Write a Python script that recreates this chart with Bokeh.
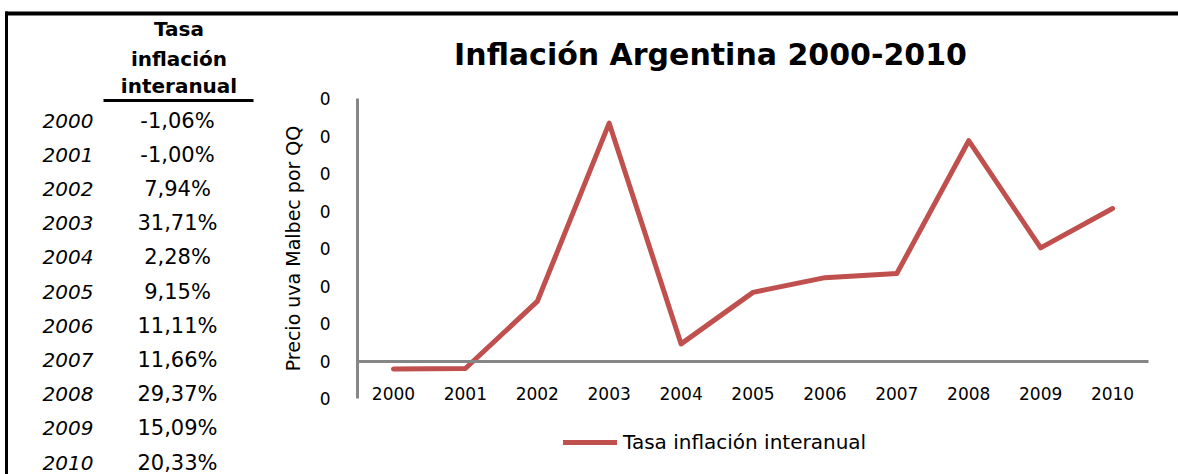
from bokeh.plotting import figure
from bokeh.models import (Range1d, FixedTicker, CustomJSTickFormatter, Legend, LegendItem,
                          LinearAxis)
from bokeh.core.properties import value
from bokeh.embed import file_html
from bokeh.resources import INLINE

# ---------------- data ----------------
years = [2000, 2001, 2002, 2003, 2004, 2005, 2006, 2007, 2008, 2009, 2010]
inflation = [-0.0106, -0.0100, 0.0794, 0.3171, 0.0228, 0.0915, 0.1111, 0.1166, 0.2937, 0.1509, 0.2033]
year_labels = [str(y) for y in years]
value_labels = [f"{v * 100:.2f}%".replace(".", ",") for v in inflation]
y_ticks = [-0.05, 0.0, 0.05, 0.10, 0.15, 0.20, 0.25, 0.30, 0.35]
header_lines = ["Tasa", "inflación", "interanual"]
chart_title = "Inflación Argentina 2000-2010"
y_label = "Precio uva Malbec por QQ"
series_name = "Tasa inflación interanual"

FONT = value("DejaVu Sans")
RED = "#C0504D"
GRAY = "#868686"

# ---------------- layout (canvas pixels) ----------------
W, H = 1178, 474
PL, PR, PT, PB = 357, 1148, 98, 398          # chart plot area
X_LO, X_HI = years[0] - 0.5, years[-1] + 0.5
Y_LO, Y_HI = y_ticks[0], y_ticks[-1]
ux = (X_HI - X_LO) / (PR - PL)
uy = (Y_HI - Y_LO) / (PB - PT)

p = figure(width=W, height=H, toolbar_location=None, output_backend="svg",
           x_range=Range1d(0, W), y_range=Range1d(H, 0),
           x_axis_type=None, y_axis_type=None,
           min_border=0, outline_line_color=None)
p.extra_x_ranges = {"yr": Range1d(X_LO - PL * ux, X_LO - PL * ux + W * ux)}
p.extra_y_ranges = {"pct": Range1d(Y_LO - (H - PB) * uy, Y_HI + PT * uy)}

# ---------------- frame borders ----------------
p.line(x=[6, 6], y=[11, H], line_color="black", line_width=3)
p.line(x=[5, W], y=[13, 13], line_color="black", line_width=4)

# ---------------- left table ----------------
p.text(x=[178.5] * 3, y=[28, 58, 85], text=header_lines, text_font=FONT,
       text_font_style="bold", text_font_size="20px", text_align="center",
       text_baseline="middle", text_color="black")
p.line(x=[103, 253], y=[100, 100], line_color="black", line_width=3)
row0, step = 120.0, 34.2
ys = [row0 + i * step for i in range(len(years))]
p.text(x=[42] * len(years), y=ys, text=year_labels, text_font=FONT,
       text_font_style="italic", text_font_size="20px", text_align="left",
       text_baseline="middle", text_color="black")
p.text(x=[177] * len(years), y=ys, text=value_labels, text_font=FONT,
       text_font_size="21px", text_align="center",
       text_baseline="middle", text_color="black")

# ---------------- title ----------------
p.text(x=[710], y=[54], text=[chart_title], text_font=FONT, text_font_style="bold",
       text_font_size="30px", text_align="center", text_baseline="middle",
       text_color="black")

# ---------------- series ----------------
r = p.line(years, inflation, x_range_name="yr", y_range_name="pct",
           line_color=RED, line_width=5, line_join="round", line_cap="round")

# ---------------- axes ----------------
yax = LinearAxis(x_range_name="yr", y_range_name="pct", fixed_location=X_LO,
                 bounds=(Y_LO, Y_HI), ticker=FixedTicker(ticks=y_ticks),
                 formatter=CustomJSTickFormatter(code="return '0'"),
                 axis_line_color=GRAY, axis_line_width=3,
                 major_tick_line_color=None, minor_tick_line_color=None,
                 major_label_standoff=21, major_label_text_font="DejaVu Sans",
                 major_label_text_font_size="17px", major_label_text_color="black",
                 axis_label=y_label, axis_label_text_font="DejaVu Sans",
                 axis_label_text_font_style="normal", axis_label_text_font_size="19px",
                 axis_label_text_color="black", axis_label_standoff=13)
p.add_layout(yax, "left")

xax = LinearAxis(x_range_name="yr", y_range_name="pct", fixed_location=0,
                 bounds=(X_LO, X_HI), ticker=FixedTicker(ticks=years),
                 axis_line_color=GRAY, axis_line_width=3,
                 major_tick_line_color=None, minor_tick_line_color=None,
                 major_label_standoff=20, major_label_text_font="DejaVu Sans",
                 major_label_text_font_size="17px", major_label_text_color="black")
p.add_layout(xax, "below")

# ---------------- legend ----------------
legend = Legend(items=[LegendItem(label=series_name, renderers=[r])],
                orientation="horizontal", location=(563, 20),
                border_line_color=None, background_fill_alpha=0,
                glyph_width=54, glyph_height=20, label_height=20,
                label_standoff=6, padding=0, margin=0,
                label_text_font="DejaVu Sans", label_text_font_size="20px",
                label_text_color="black")
p.add_layout(legend)

open("out.html", "w").write(file_html(p, INLINE))
